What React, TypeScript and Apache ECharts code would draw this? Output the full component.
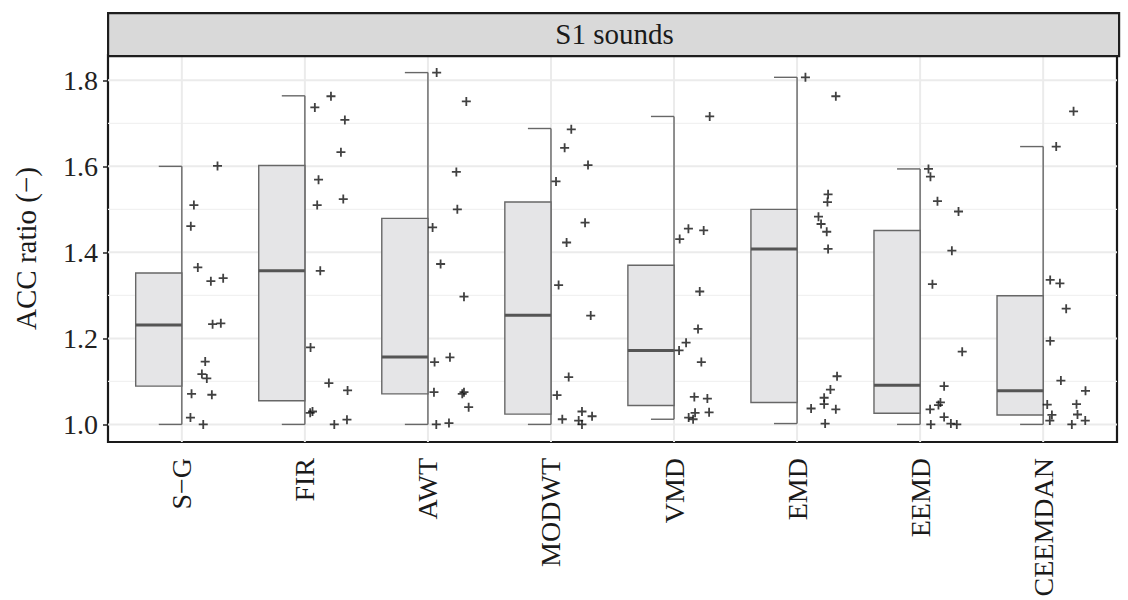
import React, { useEffect, useRef } from "react";
import * as echarts from "echarts";

const categories = ["S−G", "FIR", "AWT", "MODWT", "VMD", "EMD", "EEMD", "CEEMDAN"];

const sgValues = [1.601, 1.51, 1.461, 1.365, 1.333, 1.34, 1.233, 1.235, 1.146, 1.117, 1.107, 1.071, 1.069, 1.016, 1.0];
const sgJitter = [0.29, 0.098, 0.073, 0.13, 0.236, 0.336, 0.25, 0.317, 0.19, 0.163, 0.203, 0.079, 0.244, 0.07, 0.174];
const firValues = [1.763, 1.737, 1.708, 1.633, 1.569, 1.524, 1.51, 1.357, 1.179, 1.096, 1.079, 1.027, 1.03, 1.0, 1.011];
const firJitter = [0.212, 0.081, 0.325, 0.293, 0.111, 0.312, 0.1, 0.125, 0.046, 0.195, 0.347, 0.043, 0.062, 0.239, 0.342];
const awtValues = [1.818, 1.751, 1.587, 1.5, 1.458, 1.373, 1.297, 1.145, 1.156, 1.075, 1.075, 1.071, 1.04, 1.0, 1.003];
const awtJitter = [0.071, 0.312, 0.231, 0.239, 0.038, 0.103, 0.293, 0.054, 0.179, 0.049, 0.293, 0.279, 0.331, 0.068, 0.171];
const modwtValues = [1.686, 1.643, 1.603, 1.565, 1.469, 1.423, 1.324, 1.253, 1.11, 1.068, 1.012, 1.03, 1.019, 1.009, 1.0];
const modwtJitter = [0.165, 0.111, 0.301, 0.041, 0.277, 0.127, 0.062, 0.323, 0.144, 0.049, 0.092, 0.252, 0.334, 0.225, 0.252];
const vmdValues = [1.716, 1.431, 1.455, 1.451, 1.309, 1.222, 1.19, 1.172, 1.145, 1.064, 1.06, 1.028, 1.027, 1.016, 1.012];
const vmdJitter = [0.29, 0.046, 0.117, 0.241, 0.209, 0.195, 0.098, 0.041, 0.222, 0.165, 0.271, 0.285, 0.171, 0.119, 0.155];
const emdValues = [1.807, 1.763, 1.535, 1.517, 1.483, 1.466, 1.448, 1.408, 1.112, 1.081, 1.062, 1.047, 1.037, 1.035, 1.002];
const emdJitter = [0.068, 0.315, 0.252, 0.247, 0.174, 0.195, 0.241, 0.252, 0.325, 0.271, 0.22, 0.22, 0.114, 0.315, 0.228];
const eemdValues = [1.594, 1.576, 1.519, 1.495, 1.404, 1.326, 1.169, 1.089, 1.051, 1.045, 1.035, 1.017, 1.002, 1.0, 1.0];
const eemdJitter = [0.068, 0.084, 0.141, 0.312, 0.258, 0.1, 0.342, 0.195, 0.165, 0.149, 0.081, 0.195, 0.25, 0.298, 0.087];
const ceemdanValues = [1.728, 1.646, 1.336, 1.328, 1.269, 1.194, 1.102, 1.078, 1.046, 1.047, 1.022, 1.023, 1.009, 1.009, 1.0];
const ceemdanJitter = [0.247, 0.106, 0.057, 0.136, 0.187, 0.057, 0.144, 0.344, 0.033, 0.271, 0.071, 0.279, 0.054, 0.342, 0.233];

const boxMin = [1.0, 1.0, 1.0, 1.0, 1.012, 1.002, 1.0, 1.0];
const boxQ1 = [1.089, 1.055, 1.071, 1.024, 1.044, 1.051, 1.026, 1.022];
const boxMedian = [1.231, 1.357, 1.157, 1.254, 1.172, 1.408, 1.091, 1.078];
const boxQ3 = [1.352, 1.602, 1.479, 1.517, 1.37, 1.5, 1.451, 1.299];
const boxMax = [1.6, 1.764, 1.818, 1.688, 1.716, 1.807, 1.594, 1.646];

const yTicks = [1.0, 1.2, 1.4, 1.6, 1.8];
const yMinorLines = [1.1, 1.3, 1.5, 1.7];

const stripTitle = "S1 sounds";
const yTitle = "ACC ratio (−)";

const FONT = "Liberation Serif";

export default function App() {
  const ref = useRef<HTMLDivElement>(null);

  useEffect(() => {
    if (!ref.current) return;
    const chart = echarts.init(ref.current, null, { renderer: "svg" });

    const groups = [
      [sgValues, sgJitter],
      [firValues, firJitter],
      [awtValues, awtJitter],
      [modwtValues, modwtJitter],
      [vmdValues, vmdJitter],
      [emdValues, emdJitter],
      [eemdValues, eemdJitter],
      [ceemdanValues, ceemdanJitter],
    ];
    const points: number[][] = [];
    groups.forEach(([vals, jit], gi) => {
      vals.forEach((v, k) => points.push([gi + 1 + jit[k], v]));
    });

    const boxData = categories.map((_, i) => [i + 1, boxMin[i], boxQ1[i], boxMedian[i], boxQ3[i], boxMax[i]]);
    const catPositions = categories.map((_, i) => i + 1);

    const hGridData = [
      ...yTicks.map((v) => [1, v, 1]),
      ...yMinorLines.map((v) => [1, v, 0]),
    ];
    const vGridData = catPositions.map((p) => [p, 1.4]);

    const GL = 108, GR = 11, GT = 55, GB = 158;

    const option: any = {
      animation: false,
      backgroundColor: "#ffffff",
      textStyle: { fontFamily: FONT },
      grid: {
        left: GL,
        right: GR,
        top: GT,
        bottom: GB,
        show: true,
        borderColor: "#1a1a1a",
        borderWidth: 2.2,
        backgroundColor: "#ffffff",
      },
      xAxis: {
        type: "value",
        min: 0.4,
        max: 8.6,
        axisLine: { show: false },
        axisTick: { show: false },
        splitLine: { show: false },
        axisLabel: {
          customValues: catPositions,
          formatter: (v: number) => categories[Math.round(v) - 1] ?? "",
          rotate: 90,
          margin: 16,
          fontSize: 28,
          fontFamily: FONT,
          color: "#1a1a1a",
        },
      },
      yAxis: {
        type: "value",
        min: 0.9591,
        max: 1.8589,
        name: yTitle,
        nameLocation: "middle",
        nameGap: 68,
        nameTextStyle: { fontSize: 29, fontFamily: FONT, color: "#1a1a1a" },
        axisLine: { show: false },
        axisTick: { show: true, customValues: yTicks, length: 5, lineStyle: { color: "#222", width: 1.5 } },
        splitLine: { show: false },
        axisLabel: {
          customValues: yTicks,
          formatter: (v: number) => v.toFixed(1),
          fontSize: 28,
          fontFamily: FONT,
          color: "#222222",
          margin: 10,
        },
      },
      graphic: [
        {
          type: "rect",
          left: GL - 1,
          top: 12,
          shape: { width: 1128 - GL - GR + 2, height: GT - 12 },
          style: { fill: "#d9d9d9", stroke: "#1e1e1e", lineWidth: 2.2 },
          z: 10,
        },
        {
          type: "text",
          x: (GL + 1128 - GR) / 2 + 2,
          y: 34,
          style: {
            text: stripTitle,
            fontSize: 29,
            fontFamily: FONT,
            fill: "#1a1a1a",
            textAlign: "center",
            textVerticalAlign: "middle",
          },
          z: 11,
        },
      ],
      series: [
        {
          type: "custom",
          name: "hgrid",
          silent: true,
          z: 1,
          data: hGridData,
          encode: { x: 0, y: 1 },
          renderItem: (params: any, api: any) => {
            const cs = params.coordSys;
            const y = api.coord([1, api.value(1)])[1];
            const major = api.value(2) === 1;
            return {
              type: "line",
              shape: { x1: cs.x, y1: y, x2: cs.x + cs.width, y2: y },
              style: { stroke: major ? "#ebebeb" : "#f1f1f1", lineWidth: major ? 2 : 1.2 },
            };
          },
        },
        {
          type: "custom",
          name: "vgrid",
          silent: true,
          z: 1,
          data: vGridData,
          encode: { x: 0, y: 1 },
          renderItem: (params: any, api: any) => {
            const cs = params.coordSys;
            const x = api.coord([api.value(0), 1.4])[0];
            return {
              type: "line",
              shape: { x1: x, y1: cs.y, x2: x, y2: cs.y + cs.height },
              style: { stroke: "#ebebeb", lineWidth: 2 },
            };
          },
        },
        {
          type: "custom",
          name: "boxes",
          silent: true,
          z: 2,
          data: boxData,
          encode: { x: 0, y: [1, 2, 3, 4, 5] },
          renderItem: (params: any, api: any) => {
            const i = api.value(0);
            const xc = api.coord([i, api.value(1)])[0];
            const yMin = api.coord([i, api.value(1)])[1];
            const yQ1 = api.coord([i, api.value(2)])[1];
            const yMed = api.coord([i, api.value(3)])[1];
            const yQ3 = api.coord([i, api.value(4)])[1];
            const yMax = api.coord([i, api.value(5)])[1];
            const unit = api.size([1, 0])[0];
            const boxW = unit * 0.375;
            const capW = unit * 0.1875;
            const ls = { stroke: "#676767", lineWidth: 1.4 };
            return {
              type: "group",
              children: [
                { type: "line", shape: { x1: xc, y1: yMin, x2: xc, y2: yMax }, style: ls },
                { type: "line", shape: { x1: xc - capW, y1: yMin, x2: xc, y2: yMin }, style: ls },
                { type: "line", shape: { x1: xc - capW, y1: yMax, x2: xc, y2: yMax }, style: ls },
                {
                  type: "rect",
                  shape: { x: xc - boxW, y: yQ3, width: boxW, height: yQ1 - yQ3 },
                  style: { fill: "#e5e5e7", stroke: "#676767", lineWidth: 1.4 },
                },
                {
                  type: "line",
                  shape: { x1: xc - boxW, y1: yMed, x2: xc, y2: yMed },
                  style: { stroke: "#555555", lineWidth: 3 },
                },
              ],
            };
          },
        },
        {
          type: "scatter",
          name: "points",
          z: 3,
          data: points,
          symbol: "path://M0,5L10,5M5,0L5,10",
          symbolSize: 9,
          itemStyle: { color: "rgba(0,0,0,0)", borderColor: "#111111", borderWidth: 1.8 },
        },
      ],
    };

    chart.setOption(option);
    return () => chart.dispose();
  }, []);

  return <div ref={ref} style={{ width: 1128, height: 600, position: "absolute", left: 0, top: 0 }} />;
}
